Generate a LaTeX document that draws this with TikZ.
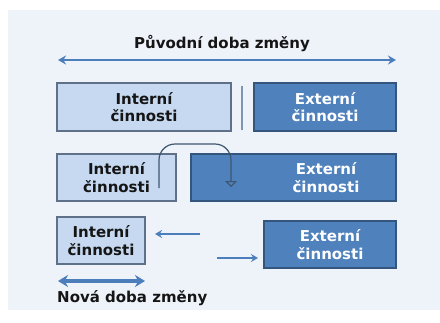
\documentclass[tikz,border=0pt]{standalone}
\usepackage{fontspec}
\setmainfont{DejaVu Sans}
\usetikzlibrary{arrows.meta}
\definecolor{panel}{HTML}{EEF2F9}
\definecolor{ifill}{HTML}{C6D9F1}
\definecolor{idraw}{HTML}{5F7189}
\definecolor{efill}{HTML}{4F81BD}
\definecolor{edraw}{HTML}{34557E}
\definecolor{arr}{HTML}{4C7EBC}
\definecolor{curve}{HTML}{3F5670}
\definecolor{sep}{HTML}{7E94B0}
\definecolor{txt}{HTML}{151515}
\tikzset{
  lbl/.style={font=\fontsize{15}{17.5}\selectfont\bfseries, align=center, inner sep=0pt},
  ibox/.style={draw=idraw, fill=ifill, line width=1.3pt, lbl, text=txt},
  ebox/.style={draw=edraw, fill=efill, line width=1.3pt, lbl, text=white},
  etxt/.style={lbl, text=white},
  thinarr/.style={draw=arr, line width=1.6pt, -{Stealth[length=7pt,width=8pt]}},
  dblarr/.style={draw=arr, line width=1.6pt, {Stealth[length=8pt,width=9pt]}-{Stealth[length=8pt,width=9pt]}},
  thickarr/.style={draw=arr, line width=3.5pt, {Stealth[length=10pt,width=12pt]}-{Stealth[length=10pt,width=12pt]}},
}
\begin{document}
\begin{tikzpicture}[x=1pt,y=-1pt]
\useasboundingbox (0,0) rectangle (440,322);
\fill[panel] (8,10) rectangle (440,310);
% title
\node[lbl, text=txt] (t1) at (222,44) {Původní doba změny};
\coordinate (ta) at (58,60);
\coordinate (tb) at (396,60);
\draw[dblarr] (ta) -- (tb);
% row 1
\node[ibox, minimum width=174pt, minimum height=48pt] (i1) at (144,107) {Interní\\činnosti};
\node[ebox, minimum width=142pt, minimum height=48pt] (e1) at (325,107) {Externí\\činnosti};
\coordinate (s1) at (242,86);
\coordinate (s2) at (242,130);
\draw[sep, line width=1.8pt] (s1) -- (s2);
% row 2
\node[ibox, minimum width=119pt, minimum height=47pt] (i2) at (116.5,177.5) {Interní\\činnosti};
\node[ebox, minimum width=205pt, minimum height=47pt] (e2) at (293.5,177.5) {};
\node[etxt] (e2t) at (326,177.5) {Externí\\činnosti};
\coordinate (c1) at (159,188);
\coordinate (c2) at (159,144);
\coordinate (c3) at (231,144);
\coordinate (c4) at (231,187);
\draw[curve, line width=1.2pt, rounded corners=16pt, -{Triangle[open, length=6pt, width=12pt]}] (c1) -- (c2) -- (c3) -- (c4);
% row 3
\node[ibox, minimum width=88pt, minimum height=47pt] (i3) at (101,240.5) {Interní\\činnosti};
\node[ebox, minimum width=132pt, minimum height=47pt] (e3) at (330,244.5) {Externí\\činnosti};
\coordinate (la) at (200,234);
\coordinate (lb) at (155,234);
\draw[thinarr] (la) -- (lb);
\coordinate (ra) at (217,258);
\coordinate (rb) at (258,258);
\draw[thinarr] (ra) -- (rb);
\coordinate (ba) at (58,281);
\coordinate (bb) at (145,281);
\draw[thickarr] (ba) -- (bb);
\node[lbl, text=txt, anchor=west] (t2) at (57,298) {Nová doba změny};
\end{tikzpicture}
\end{document}
